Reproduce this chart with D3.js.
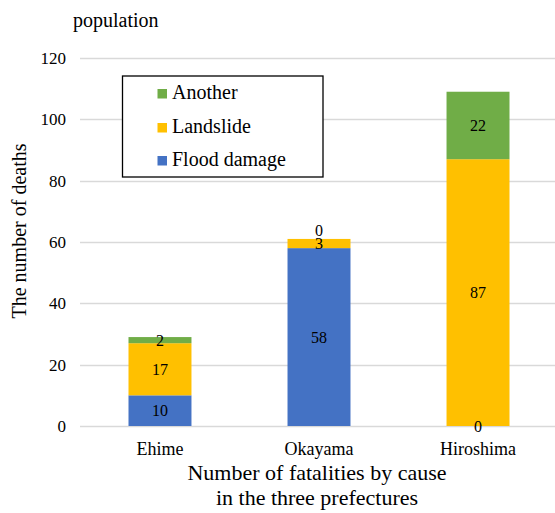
<!DOCTYPE html>
<html><head><meta charset="utf-8">
<script src="https://cdn.jsdelivr.net/npm/d3@7"></script>
<style>body{margin:0;background:#fff}svg{display:block}</style>
</head><body>
<script>
const categories = ["Ehime", "Okayama", "Hiroshima"];
const seriesNames = ["Flood damage", "Landslide", "Another"];
const flood = [10, 58, 0];
const landslide = [17, 3, 87];
const another = [2, 0, 22];
const yTicks = [0, 20, 40, 60, 80, 100, 120];
const colors = ["#4472C4", "#FFC000", "#70AD47"];

const W = 555, H = 513;
const svg = d3.select("body").append("svg").attr("width", W).attr("height", H)
  .attr("font-family", "'Liberation Serif', 'Times New Roman', serif");
const y = d3.scaleLinear().domain([0, 120]).range([426, 58]);
const x = d3.scaleBand().domain(categories).range([81, 557]).paddingInner(0.604).paddingOuter(0.2987);

// gridlines
svg.append("g").selectAll("line").data(yTicks).join("line")
  .attr("x1", 80).attr("x2", W).attr("y1", d => Math.round(y(d)) + 0.5).attr("y2", d => Math.round(y(d)) + 0.5)
  .attr("stroke", "#d9d9d9").attr("stroke-width", 1.5);
svg.append("g").selectAll("text").data(yTicks).join("text")
  .attr("x", 66).attr("y", d => y(d)).attr("dy", "0.35em").attr("text-anchor", "end")
  .attr("font-size", 17).text(d => d);

const data = categories.map((c, i) => ({cat: c, "Flood damage": flood[i], "Landslide": landslide[i], "Another": another[i]}));
const stack = d3.stack().keys(seriesNames)(data);

const g = svg.append("g");
stack.forEach((s, si) => {
  g.selectAll(null).data(s).join("rect")
    .attr("x", d => x(d.data.cat)).attr("width", x.bandwidth())
    .attr("y", d => y(d[1])).attr("height", d => y(d[0]) - y(d[1]))
    .attr("fill", colors[si]);
});
stack.forEach((s, si) => {
  g.selectAll(null).data(s).join("text")
    .attr("x", d => x(d.data.cat) + x.bandwidth() / 2)
    .attr("y", d => y((d[0] + d[1]) / 2) + ((d[1] - d[0]) === 0 && si === 2 ? -9 : 0))
    .attr("dy", "0.35em")
    .attr("text-anchor", "middle").attr("font-size", 16)
    .text(d => d[1] - d[0]);
});

// x tick labels
svg.append("g").selectAll("text").data(categories).join("text")
  .attr("x", d => x(d) + x.bandwidth() / 2).attr("y", 455)
  .attr("text-anchor", "middle").attr("font-size", 18).text(d => d);

// titles
svg.append("text").attr("x", 73).attr("y", 27).attr("font-size", 20).text("population");
svg.append("text").attr("transform", "translate(26,231) rotate(-90)").attr("text-anchor", "middle")
  .attr("font-size", 20).text("The number of deaths");
svg.append("text").attr("x", 317).attr("y", 480).attr("text-anchor", "middle").attr("font-size", 22)
  .text("Number of fatalities by cause");
svg.append("text").attr("x", 317).attr("y", 505).attr("text-anchor", "middle").attr("font-size", 22)
  .text("in the three prefectures");

// legend
const lg = svg.append("g");
lg.append("rect").attr("x", 122.5).attr("y", 76).attr("width", 200.5).attr("height", 101)
  .attr("fill", "#fff").attr("stroke", "#000").attr("stroke-width", 1.3);
const legendOrder = ["Another", "Landslide", "Flood damage"];
const legendY = [99, 133, 166];
legendOrder.forEach((n, i) => {
  const ci = seriesNames.indexOf(n);
  lg.append("rect").attr("x", 157.5).attr("y", legendY[i] - 10).attr("width", 9.5).attr("height", 9.5).attr("fill", colors[ci]);
  lg.append("text").attr("x", 172).attr("y", legendY[i]).attr("font-size", 20).text(n);
});
</script>
</body></html>
